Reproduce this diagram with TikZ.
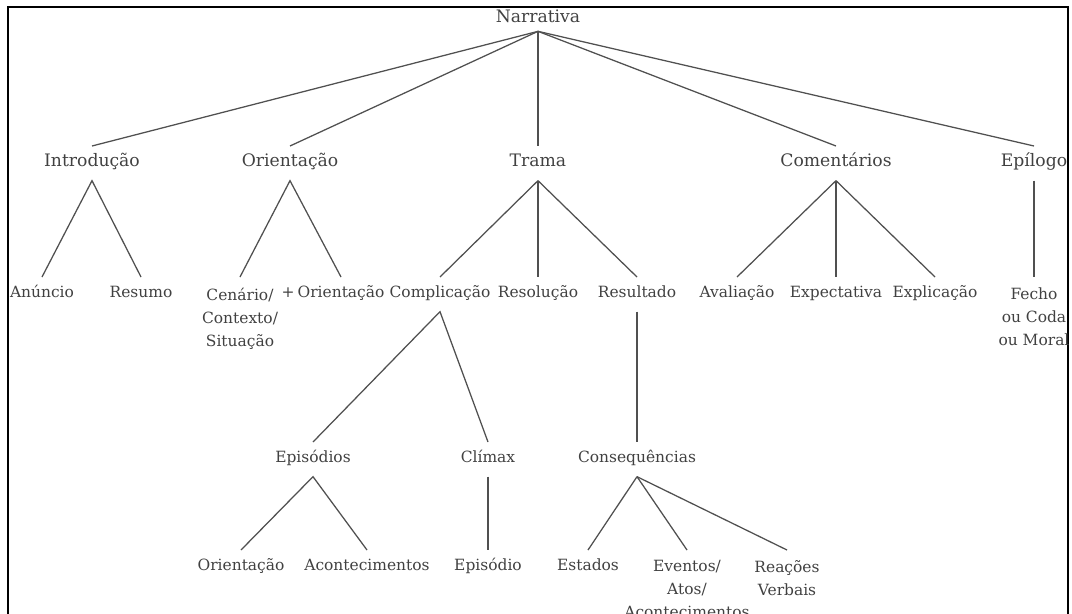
\documentclass[tikz,border=0pt]{standalone}
\usepackage{fontspec}
\setmainfont{DejaVu Serif}
\usepackage{tikz}

\definecolor{treegray}{RGB}{80,80,80}
\definecolor{textgray}{RGB}{65,65,65}

\tikzset{
	lab/.style={anchor=north, inner sep=0pt, outer ysep=8pt, text height=0.75em, text depth=0.25em, text=textgray, font=\fontsize{11.6}{17.25}\selectfont},
	headlab/.style={lab, font=\fontsize{12.9}{16}\selectfont},
	multilab/.style={anchor=north, inner sep=0pt, outer ysep=8pt, align=center, text=textgray, font=\fontsize{11.6}{17.25}\selectfont},
	branch/.style={draw=treegray, line width=0.95pt},
}

\begin{document}
\begin{tikzpicture}[x=0.75pt,y=0.75pt,yscale=-1,xscale=1]
			\useasboundingbox (0,0) rectangle (1072,614);

			%Shape: Frame (open at the bottom)
			\draw [line width=2pt] (8,614) -- (8,7) -- (1068,7) -- (1068,614) ;

			% Text Node
			\node [headlab, outer ysep=4.5pt] (narr) at (538,6) {Narrativa};
			% Text Node
			\node [headlab] (intro) at (92,146) {Introdução};
			\node [headlab] (orient) at (290,146) {Orientação};
			\node [headlab] (trama) at (538,146) {Trama};
			\node [headlab] (coment) at (836,146) {Comentários};
			\node [headlab] (epil) at (1034,146) {Epílogo};

			% Text Node
			\node [lab] (anunc) at (42,277) {Anúncio};
			\node [lab] (resumo) at (141,277) {Resumo};
			\node [multilab] (cenario) at (240,277) {Cenário/\\Contexto/\\Situação};
			\node [lab] (plus) at (288,277) {+};
			\node [lab] (orientb) at (341,277) {Orientação};
			\node [lab] (compl) at (440,277) {Complicação};
			\node [lab] (resol) at (538,277) {Resolução};
			\node [lab] (result) at (637,277) {Resultado};
			\node [lab] (aval) at (737,277) {Avaliação};
			\node [lab] (expect) at (836,277) {Expectativa};
			\node [lab] (explic) at (935,277) {Explicação};
			\node [multilab] (fecho) at (1034,277) {Fecho\\ou Coda\\ou Moral};

			% Text Node
			\node [lab] (episs) at (313,442) {Episódios};
			\node [lab] (climax) at (488,442) {Clímax};
			\node [lab] (conseq) at (637,442) {Consequências};

			% Text Node
			\node [lab] (orientc) at (241,550) {Orientação};
			\node [lab] (acont) at (367,550) {Acontecimentos};
			\node [lab] (epis) at (488,550) {Episódio};
			\node [lab] (estados) at (588,550) {Estados};
			\node [multilab] (eventos) at (687,550) {Eventos/\\Atos/\\Acontecimentos};
			\node [multilab] (reacoes) at (787,550) {Reações\\Verbais};

			%Straight Lines
			\foreach \k in {intro,orient,trama,coment,epil}
				\draw [branch] (narr.south) -- (\k.north) ;
			%Straight Lines
			\draw [branch] (anunc.north) -- (intro.south) -- (resumo.north) ;
			\draw [branch] (cenario.north) -- (orient.south) -- (orientb.north) ;
			\foreach \k in {compl,resol,result}
				\draw [branch] (trama.south) -- (\k.north) ;
			\foreach \k in {aval,expect,explic}
				\draw [branch] (coment.south) -- (\k.north) ;
			\draw [branch] (epil.south) -- (fecho.north) ;
			%Straight Lines
			\draw [branch] (episs.north) -- (compl.south) -- (climax.north) ;
			\draw [branch] (result.south) -- (conseq.north) ;
			%Straight Lines
			\draw [branch] (orientc.north) -- (episs.south) -- (acont.north) ;
			\draw [branch] (climax.south) -- (epis.north) ;
			\foreach \k in {estados,eventos,reacoes}
				\draw [branch] (conseq.south) -- (\k.north) ;

\end{tikzpicture}
\end{document}
